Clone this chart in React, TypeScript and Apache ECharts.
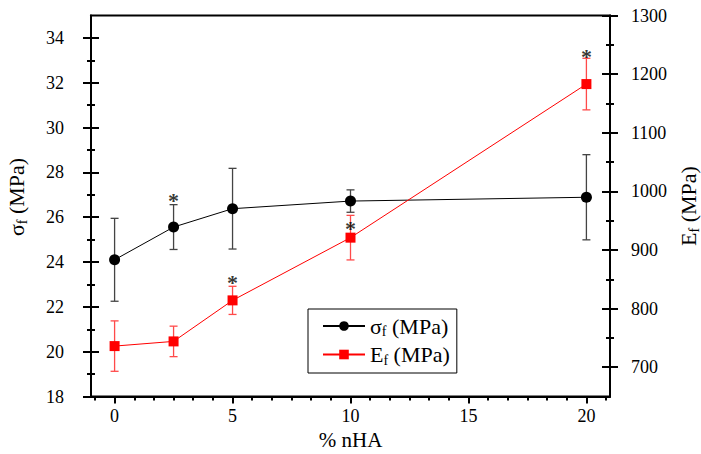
import React, { useEffect, useRef } from "react";
import * as echarts from "echarts";

// ---- data ----
const nHA = [0, 2.5, 5, 10, 20];
const sigmaMean = [24.1, 25.56, 26.38, 26.72, 26.89];
const sigmaErr = [1.85, 1.0, 1.8, 0.5, 1.9];
const eMean = [736, 744, 814, 921, 1183];
const eErr = [43, 26, 24, 38, 44];

// significance asterisks (x, value on its axis)
const sigmaStarX = [2.5];
const sigmaStarY = [26.9];
const eStarX = [5, 10, 20];
const eStarY = [850, 942, 1236];

// ticks
const xMajor = [0, 5, 10, 15, 20];
const xMinor = [-5 / 6, 5 / 6, 10 / 6, 15 / 6, 20 / 6, 25 / 6, 35 / 6, 40 / 6, 45 / 6, 50 / 6, 55 / 6, 65 / 6, 70 / 6, 75 / 6, 80 / 6, 85 / 6, 95 / 6, 100 / 6, 105 / 6, 110 / 6, 115 / 6, 125 / 6];
const leftMajor = [18, 20, 22, 24, 26, 28, 30, 32, 34];
const leftMinor = [19, 21, 23, 25, 27, 29, 31, 33];
const rightMajor = [700, 800, 900, 1000, 1100, 1200, 1300];
const rightMinor = [750, 850, 950, 1050, 1150, 1250];

const FONT = "Liberation Serif";
const subTitle = {
  n: { fontSize: 22, fontFamily: FONT, color: "#000" },
  s: { fontSize: 14, fontFamily: FONT, color: "#000", padding: [11, 0, 0, 0] },
};
const subLegend = {
  n: { fontSize: 22, fontFamily: FONT, color: "#000" },
  s: { fontSize: 14, fontFamily: FONT, color: "#000", padding: [11, 0, 0, 0] },
};

function yAx(o: any) {
  return {
    type: "value",
    min: o.min,
    max: o.max,
    position: o.position,
    offset: 0,
    splitLine: { show: false },
    axisLine: { show: o.line, onZero: false, lineStyle: { color: "#000", width: 2 } },
    axisTick: {
      show: true,
      inside: o.inside,
      length: o.len,
      customValues: o.ticks,
      lineStyle: { color: "#000", width: 2 },
    },
    axisLabel: o.labels
      ? {
          show: true,
          customValues: o.ticks,
          margin: o.margin,
          fontSize: 18,
          fontFamily: FONT,
          color: "#000",
          formatter: (v: number) => String(v),
        }
      : { show: false },
    name: o.name,
    nameLocation: "middle",
    nameGap: o.nameGap,
    nameRotate: 90,
    nameTextStyle: { fontSize: 22, fontFamily: FONT, color: "#000", rich: subTitle, padding: o.namePad || 0 },
  };
}

export default function App() {
  const ref = useRef<HTMLDivElement>(null);
  useEffect(() => {
    const chart = echarts.init(ref.current!, null, { renderer: "svg" });
    const errItem = (color: string) => (params: any, api: any) => {
      const x = api.value(0);
      const lo = api.coord([x, api.value(1)]);
      const hi = api.coord([x, api.value(2)]);
      const w = 4;
      const st = { stroke: color, lineWidth: 1.3 };
      return {
        type: "group",
        children: [
          { type: "line", shape: { x1: lo[0], y1: lo[1], x2: hi[0], y2: hi[1] }, style: st },
          { type: "line", shape: { x1: lo[0] - w, y1: lo[1], x2: lo[0] + w, y2: lo[1] }, style: st },
          { type: "line", shape: { x1: hi[0] - w, y1: hi[1], x2: hi[0] + w, y2: hi[1] }, style: st },
        ],
      };
    };
    const starLabel = {
      show: true,
      formatter: "*",
      position: "inside",
      offset: [0, 3],
      fontSize: 22,
      fontWeight: "bold",
      fontFamily: FONT,
      color: "#000",
    };
    chart.setOption({
      animation: false,
      grid: {
        left: 91,
        right: 91,
        top: 15.5,
        bottom: 57.5,
        outerBoundsMode: "none",
        containLabel: false,
        show: true,
        borderColor: "#000",
        borderWidth: 2,
        backgroundColor: "transparent",
      },
      legend: {
        left: 308,
        top: 309,
        orient: "vertical",
        data: ["σf (MPa)", "Ef (MPa)"],
        padding: [6, 7, 6, 14],
        itemGap: 5,
        itemWidth: 42,
        itemHeight: 12,
        borderColor: "#000",
        borderWidth: 1,
        backgroundColor: "#fff",
        formatter: (name: string) =>
          name.startsWith("σ") ? "{n|σ}{s|f}{n| (MPa)}" : "{n|E}{s|f}{n| (MPa)}",
        textStyle: { fontSize: 22, fontFamily: FONT, color: "#000", rich: subLegend },
      },
      xAxis: [
        {
          type: "value",
          min: -1,
          max: 21,
          position: "bottom",
          splitLine: { show: false },
          axisLine: { show: true, onZero: false, lineStyle: { color: "#000", width: 2 } },
          axisTick: { show: true, length: 7, customValues: xMajor, lineStyle: { color: "#000", width: 2 } },
          axisLabel: { customValues: xMajor, margin: 10, fontSize: 18, fontFamily: FONT, color: "#000" },
          name: "% nHA",
          nameLocation: "middle",
          nameGap: 33,
          nameTextStyle: { fontSize: 21, fontFamily: FONT, color: "#000" },
        },
        {
          type: "value",
          min: -1,
          max: 21,
          position: "bottom",
          splitLine: { show: false },
          axisLine: { show: false, onZero: false },
          axisTick: { show: true, length: 4, customValues: xMinor, lineStyle: { color: "#000", width: 2 } },
          axisLabel: { show: false },
        },
      ],
      yAxis: [
        yAx({ min: 18, max: 35, position: "left", line: true, inside: false, len: 8, ticks: leftMajor, labels: true, margin: 27, name: "{n|σ}{s|f}{n| (MPa)}", nameGap: 62, namePad: [0, 0, 0, 18] }),
        yAx({ min: 18, max: 35, position: "left", line: false, inside: true, len: 8, ticks: leftMajor }),
        yAx({ min: 18, max: 35, position: "left", line: false, inside: false, len: 4, ticks: leftMinor }),
        yAx({ min: 18, max: 35, position: "left", line: false, inside: true, len: 4, ticks: leftMinor }),
        yAx({ min: 650, max: 1300, position: "right", line: true, inside: false, len: 8, ticks: rightMajor, labels: true, margin: 21, name: "{n|E}{s|f}{n| (MPa)}", nameGap: 64 }),
        yAx({ min: 650, max: 1300, position: "right", line: false, inside: true, len: 8, ticks: rightMajor }),
        yAx({ min: 650, max: 1300, position: "right", line: false, inside: false, len: 4, ticks: rightMinor }),
        yAx({ min: 650, max: 1300, position: "right", line: false, inside: true, len: 4, ticks: rightMinor }),
      ],
      series: [
        {
          type: "custom",
          yAxisIndex: 0,
          renderItem: errItem("#444"),
          data: nHA.map((x, i) => [x, sigmaMean[i] - sigmaErr[i], sigmaMean[i] + sigmaErr[i]]),
          z: 1,
        },
        {
          type: "custom",
          yAxisIndex: 4,
          renderItem: errItem("#ff4a4a"),
          data: nHA.map((x, i) => [x, eMean[i] - eErr[i], eMean[i] + eErr[i]]),
          z: 1,
        },
        {
          name: "σf (MPa)",
          type: "line",
          yAxisIndex: 0,
          data: nHA.map((x, i) => [x, sigmaMean[i]]),
          symbol: "circle",
          symbolSize: 11,
          itemStyle: { color: "#000" },
          lineStyle: { color: "#000", width: 1 },
          z: 3,
        },
        {
          name: "Ef (MPa)",
          type: "line",
          yAxisIndex: 4,
          data: nHA.map((x, i) => [x, eMean[i]]),
          symbol: "rect",
          symbolSize: 10,
          itemStyle: { color: "#ff0000" },
          lineStyle: { color: "#ff0000", width: 1 },
          z: 3,
        },
        {
          type: "scatter",
          yAxisIndex: 0,
          symbolSize: 0,
          data: sigmaStarX.map((x, i) => [x, sigmaStarY[i]]),
          label: starLabel,
          silent: true,
          z: 4,
        },
        {
          type: "scatter",
          yAxisIndex: 4,
          symbolSize: 0,
          data: eStarX.map((x, i) => [x, eStarY[i]]),
          label: starLabel,
          silent: true,
          z: 4,
        },
      ],
    });
    return () => chart.dispose();
  }, []);
  return <div ref={ref} style={{ position: "absolute", left: 0, top: 0, width: 701, height: 454 }} />;
}
